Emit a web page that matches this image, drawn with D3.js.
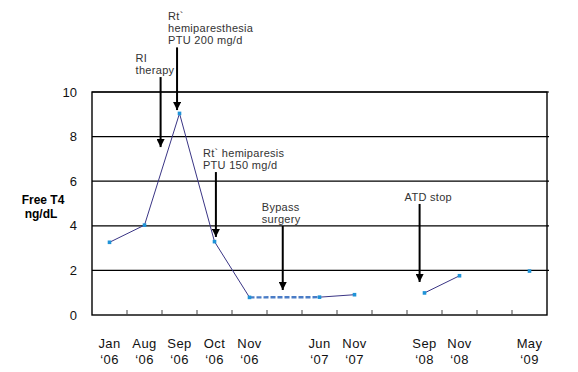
<!DOCTYPE html>
<html>
<head>
<meta charset="utf-8">
<script src="https://cdn.jsdelivr.net/npm/d3@7"></script>
<style>
  body { margin: 0; background: #fff; }
  text { font-family: "Liberation Sans", Arial, sans-serif; }
</style>
</head>
<body>
<div id="chart"></div>
<script>
// x categories (blank ones are spacer slots on the axis)
var months = ["Jan", "Aug", "Sep", "Oct", "Nov", "", "Jun", "Nov", "", "Sep", "Nov", "", "May"];
var years  = ["‘06", "‘06", "‘06", "‘06", "‘06", "", "‘07", "‘07", "", "‘08", "‘08", "", "‘09"];
// free T4 ng/dL, null = no measurement
var freeT4 = [3.26, 4.03, 9.04, 3.29, 0.79, null, 0.80, 0.91, null, 0.99, 1.76, null, 1.97];
// dashed part between these two category indices
var dashedFrom = 4, dashedTo = 6;
var yTicks = [0, 2, 4, 6, 8, 10];

// events: label lines, arrow position (category index), arrow top / tip (ng/dL)
var events = [
  {lines: ["RI", "therapy"], at: 1.46, top: 10.67, tip: 7.53},
  {lines: ["Rt`", "hemiparesthesia", "PTU 200 mg/d"], at: 1.93, top: 12.0, tip: 9.19},
  {lines: ["Rt` hemiparesis", "PTU 150 mg/d"], at: 3.04, top: 6.41, tip: 3.5},
  {lines: ["Bypass", "surgery"], at: 4.95, top: 3.99, tip: 1.12},
  {lines: ["ATD stop"], at: 8.86, top: 4.98, tip: 1.48}
];
var labelDx = [-25, -9, -13, -21, -15];

var W = 578, H = 372;
var margin = {top: 92, right: 31, bottom: 57, left: 92},
    width = W - margin.left - margin.right,
    height = H - margin.top - margin.bottom;

var svg = d3.select("#chart").append("svg")
    .attr("width", W).attr("height", H);
svg.append("rect").attr("width", W).attr("height", H).attr("fill", "#fff");

var g = svg.append("g")
    .attr("transform", "translate(" + margin.left + "," + margin.top + ")");

var x = d3.scaleBand().domain(d3.range(months.length)).range([0, width]).padding(0);
var y = d3.scaleLinear().domain([0, 10]).range([height, 0]);
var cx = function(i) { return x(Math.floor(i)) + x.bandwidth() / 2 + (i - Math.floor(i)) * x.bandwidth(); };

// grid lines
g.selectAll(".grid").data(yTicks.filter(function(d) { return d > 0; }))
  .enter().append("line")
    .attr("x1", 0).attr("x2", width + 2)
    .attr("y1", function(d) { return y(d); }).attr("y2", function(d) { return y(d); })
    .attr("stroke", "#000").attr("stroke-width", 1.2);

// frame
g.append("rect").attr("x", 0).attr("y", 0).attr("width", width).attr("height", height)
  .attr("fill", "none").attr("stroke", "#000").attr("stroke-width", 1.4);

// y tick labels
g.selectAll(".ylab").data(yTicks).enter().append("text")
  .attr("x", -15).attr("y", function(d) { return y(d); }).attr("dy", "0.36em")
  .attr("text-anchor", "end").attr("font-size", 13).attr("fill", "#111")
  .text(function(d) { return d; });

// category tick marks (inside, on the bottom)
g.selectAll(".tick").data(d3.range(1, months.length))
  .enter().append("line")
    .attr("x1", function(d) { return x(d); }).attr("x2", function(d) { return x(d); })
    .attr("y1", height).attr("y2", height - 5)
    .attr("stroke", "#444").attr("stroke-width", 1);

// x labels
var xl = g.selectAll(".xlab").data(d3.range(months.length)).enter().append("text")
  .attr("text-anchor", "middle").attr("font-size", 13).attr("fill", "#111")
  .attr("letter-spacing", 0.4)
  .attr("transform", function(i) { return "translate(" + cx(i) + "," + (height + 33) + ")"; });
xl.append("tspan").attr("x", 0).attr("y", 0).text(function(i) { return months[i]; });
xl.append("tspan").attr("x", 0).attr("y", 16).text(function(i) { return years[i]; });

// y axis title
svg.append("text").attr("x", 43).attr("y", 204).attr("text-anchor", "middle")
  .attr("font-size", 12).attr("font-weight", "bold").text("Free T4");
svg.append("text").attr("x", 41).attr("y", 218).attr("text-anchor", "middle")
  .attr("font-size", 12).attr("font-weight", "bold").text("ng/dL");

// dashed segment
g.append("path")
  .datum([dashedFrom, dashedTo])
  .attr("fill", "none").attr("stroke", "#4a7cc6").attr("stroke-width", 2.4)
  .attr("stroke-dasharray", "5,2")
  .attr("d", d3.line().x(function(i) { return cx(i); }).y(function(i) { return y(freeT4[i]); }));

// solid series
var line = d3.line()
  .defined(function(i) { return freeT4[i] != null; })
  .x(function(i) { return cx(i); })
  .y(function(i) { return y(freeT4[i]); });
g.append("path").datum(d3.range(freeT4.length))
  .attr("fill", "none").attr("stroke", "#3a3585").attr("stroke-width", 1)
  .attr("d", line);

// markers
g.selectAll(".pt").data(d3.range(freeT4.length).filter(function(i) { return freeT4[i] != null; }))
  .enter().append("rect")
    .attr("x", function(i) { return cx(i) - 1.8; })
    .attr("y", function(i) { return y(freeT4[i]) - 1.8; })
    .attr("width", 3.6).attr("height", 3.6)
    .attr("fill", "#1f93d8");

// arrows
svg.append("defs").append("marker")
  .attr("id", "head").attr("viewBox", "0 0 10 10").attr("refX", 10).attr("refY", 5)
  .attr("markerWidth", 4).attr("markerHeight", 4).attr("markerUnits", "strokeWidth")
  .attr("orient", "auto")
  .append("path").attr("d", "M0,0L10,5L0,10Z").attr("fill", "#000");

var ev = g.selectAll(".ev").data(events).enter().append("g");
ev.append("line")
  .attr("x1", function(d) { return cx(d.at); }).attr("x2", function(d) { return cx(d.at); })
  .attr("y1", function(d) { return y(d.top); }).attr("y2", function(d) { return y(d.tip); })
  .attr("stroke", "#000").attr("stroke-width", 2).attr("marker-end", "url(#head)");
ev.each(function(d, k) {
  var n = d.lines.length;
  d3.select(this).selectAll("text").data(d.lines).enter().append("text")
    .attr("x", cx(d.at) + labelDx[k])
    .attr("y", function(t, j) { return y(d.top) - 3 - (n - 1 - j) * 12; })
    .attr("font-size", 11).attr("fill", "#333").attr("letter-spacing", 0.3)
    .text(function(t) { return t; });
});
</script>
</body>
</html>
